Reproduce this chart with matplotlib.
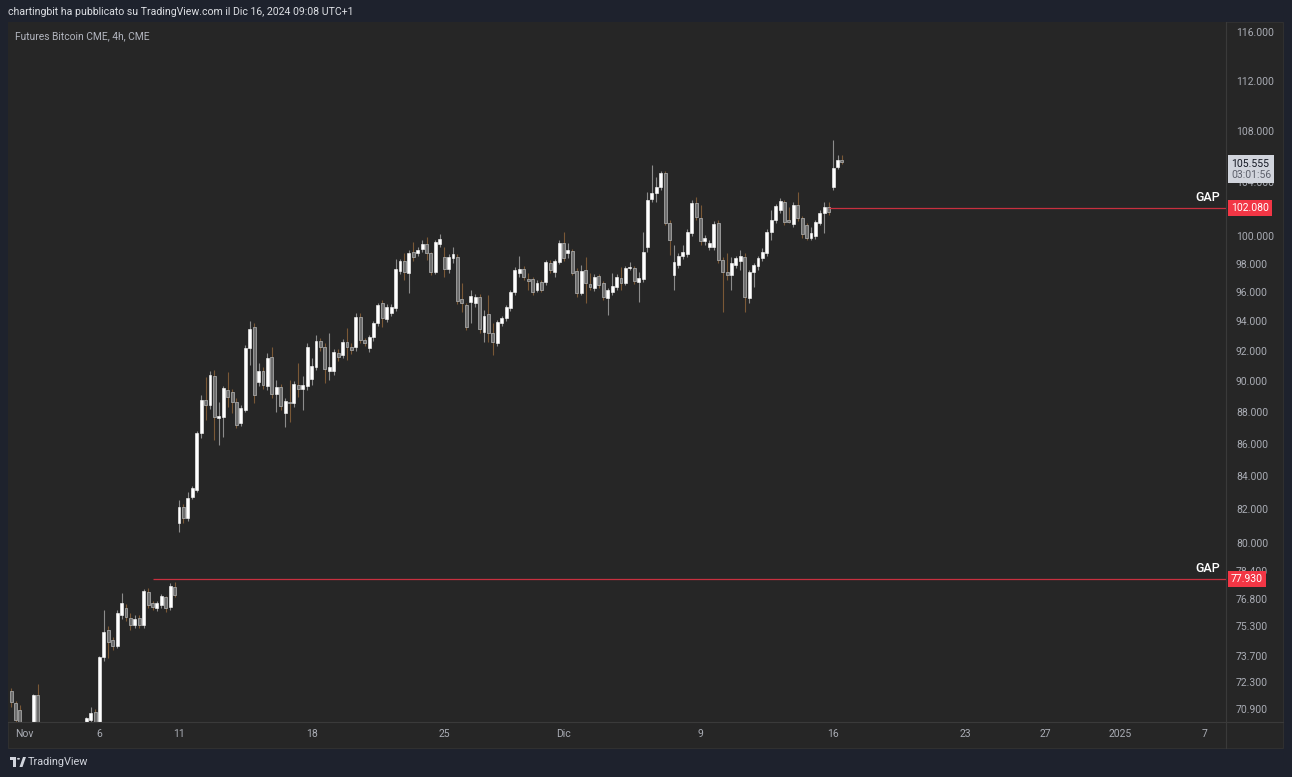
import numpy as np
import matplotlib
matplotlib.use("Agg")
import matplotlib.pyplot as plt
from matplotlib.patches import Rectangle, Circle, Polygon
from matplotlib.lines import Line2D
from matplotlib.ticker import NullLocator
from matplotlib.transforms import blended_transform_factory, offset_copy

plt.rcParams['font.family'] = ['Roboto', 'DejaVu Sans']

# 4h bars, CME BTC futures (bar index = trading-time position)
opens = [
    71835, 71210, 70850, 69900, 69500, 69800, 71600, 69800, 69100, 68800,
    69000, 68900, 68300, 68600, 69200, 69600, 69800, 70000, 70335, 70750,
    70200, 73630, 75100, 74550, 74230, 75920, 76310, 75750, 75370, 75750,
    75370, 77200, 76580, 76300, 76470, 76920, 76360, 77480, 81170, 82120,
    81470, 82720, 83140, 86660, 88760, 88440, 90330, 87610, 87670, 89410,
    89280, 88640, 87290, 88120, 92190, 93610, 89930, 90660, 89670, 91580,
    89150, 89610, 87930, 88640, 88570, 89740, 89480, 89670, 90130, 90920,
    92650, 92250, 90660, 90660, 91850, 91720, 92590, 92250, 92250, 94290,
    92720, 92190, 92920, 93880, 95250, 94150, 94560, 94910, 97500, 98210,
    97360, 98850, 98780, 99070, 99430, 98780, 97430, 99430, 98490, 97640,
    98420, 98490, 95530, 95110, 95320, 95250, 95670, 93270, 94500, 93200,
    92520, 93880, 94220, 94910, 96020, 97360, 97640, 96930, 96930, 96160,
    96720, 96720, 98060, 97430, 98140, 99500, 98780, 98930, 97500, 95950,
    97570, 96580, 96300, 97140, 96650, 95600, 96020, 96370, 97000, 96650,
    97710, 97710, 96720, 96930, 99210, 102730, 103190, 103640, 104700, 100960,
    97210, 97920, 98560, 98710, 100220, 102440, 101330, 99640, 99210, 99210,
    100960, 98280, 97430, 97210, 97920, 98210, 98490, 95600, 97430, 97850,
    98420, 98780, 100290, 101180, 101920, 102510, 101180, 100890, 102290, 101330,
    100810, 99860, 100000, 100960, 101700, 102140, 103640, 105150, 105690]
highs = [
    72000, 71300, 71100, 70200, 70000, 71700, 72200, 70000, 69500, 69300,
    69600, 69200, 68900, 69400, 69900, 70100, 70150, 70500, 71000, 70900,
    73700, 76190, 75300, 74700, 76200, 77140, 76500, 76000, 75900, 75900,
    77350, 77400, 76700, 76700, 77100, 77000, 77700, 77760, 82540, 82300,
    83020, 83400, 86800, 89090, 90260, 90660, 90720, 88640, 89700, 90590,
    89500, 88890, 88440, 92390, 94010, 93900, 91190, 90900, 91850, 92250,
    90060, 89800, 88900, 90060, 90000, 91190, 90330, 92500, 91520, 93060,
    92900, 92500, 93200, 92100, 92100, 92800, 93540, 92500, 94570, 94600,
    92900, 93100, 94000, 95300, 95460, 95200, 95200, 98350, 98400, 98780,
    99000, 99570, 99200, 99720, 99930, 98900, 99700, 100150, 99210, 98700,
    99210, 98700, 96650, 95300, 96160, 95900, 95900, 94770, 95810, 93880,
    94100, 94400, 95100, 96200, 97780, 98560, 97850, 97360, 97100, 96900,
    96900, 98300, 98300, 98350, 99720, 100290, 99500, 99100, 97700, 97920,
    98490, 97360, 97300, 97300, 96800, 96300, 97360, 97300, 97780, 97900,
    98140, 97900, 97430, 100290, 103260, 105300, 104390, 104900, 104900, 101200,
    99360, 98800, 99360, 100500, 102660, 102880, 102290, 100100, 99700, 101100,
    101200, 98500, 98780, 98490, 98600, 99000, 98800, 97600, 98100, 98600,
    99140, 100500, 101920, 102400, 102800, 102700, 102140, 102500, 103260, 101500,
    101000, 100660, 101200, 101900, 102510, 102510, 107240, 106080, 106080]
lows = [
    71000, 70100, 69600, 69300, 69200, 69600, 69500, 68900, 68500, 68200,
    68600, 67900, 67800, 68400, 68900, 69300, 69500, 69900, 70100, 70100,
    70100, 73400, 73580, 74000, 74100, 75700, 75600, 75100, 75200, 75200,
    75200, 76300, 76200, 76150, 76300, 76100, 76200, 76900, 80640, 81200,
    81300, 82600, 83000, 86350, 87480, 88200, 86220, 85910, 86410, 88320,
    87930, 86980, 87100, 88000, 91050, 88570, 89700, 89500, 89450, 88900,
    88000, 88100, 87040, 87350, 88300, 88960, 88120, 89400, 89740, 90700,
    92000, 89870, 90060, 90400, 91300, 91500, 91380, 91800, 92000, 92500,
    92300, 91950, 92700, 93700, 93610, 93950, 94350, 94700, 97300, 96860,
    95950, 98200, 98600, 98900, 98280, 97200, 97300, 99200, 97070, 97400,
    98060, 95200, 94640, 93400, 93880, 95000, 93200, 92590, 92590, 91720,
    92300, 93700, 94000, 94700, 95800, 97070, 96900, 96160, 95800, 96000,
    96000, 96500, 97400, 97070, 97990, 98200, 98420, 97200, 95700, 95810,
    95250, 96160, 96100, 96300, 95450, 94430, 95800, 96200, 96160, 96500,
    97570, 96600, 95320, 96700, 98900, 102500, 102510, 103400, 100800, 98640,
    96160, 97700, 98400, 98500, 100000, 101200, 99400, 99400, 99000, 99000,
    98100, 94630, 96900, 96160, 97700, 97570, 94630, 95300, 96370, 97600,
    98200, 98600, 99720, 101000, 101700, 100800, 100960, 100700, 101100, 99900,
    99700, 99700, 99800, 100800, 100220, 101600, 103400, 105000, 105400]
closes = [
    71260, 70335, 69900, 69500, 69800, 71600, 69800, 69100, 68800, 69000,
    68900, 68300, 68600, 69200, 69600, 69800, 70000, 70440, 70700, 70200,
    73630, 74990, 74440, 74230, 76030, 76580, 75810, 75370, 75700, 75370,
    77260, 76470, 76360, 76580, 76970, 76310, 77540, 77030, 82120, 81470,
    82660, 83260, 86660, 88760, 88440, 90390, 87670, 87740, 89540, 88960,
    88640, 87170, 88250, 92190, 93470, 89090, 90660, 89740, 91520, 89150,
    89610, 88380, 88700, 88570, 89800, 89480, 89740, 92250, 90990, 92650,
    92250, 90790, 90920, 91920, 91580, 92590, 92250, 92050, 94290, 92720,
    92520, 92920, 93880, 95110, 94220, 94980, 94980, 97640, 98210, 97430,
    98780, 98490, 99000, 99430, 98780, 97430, 99570, 99790, 97640, 98490,
    98710, 95390, 95250, 93600, 95740, 95670, 93470, 94360, 93200, 92590,
    93950, 94220, 94980, 96020, 97570, 97640, 97070, 96790, 96020, 96650,
    96160, 98140, 97570, 98210, 99500, 98420, 99000, 97360, 95950, 97500,
    96650, 96370, 97070, 96510, 95670, 96160, 96440, 97070, 96650, 97710,
    97780, 96790, 97000, 98850, 102660, 103190, 103640, 104700, 100960, 99720,
    98140, 98560, 98850, 100290, 102440, 101400, 99640, 99860, 99500, 100880,
    98280, 97430, 97210, 98060, 98420, 98560, 95670, 97430, 97920, 98420,
    98850, 100290, 101180, 102220, 102580, 101030, 101030, 102290, 101330, 100150,
    99860, 100220, 101030, 101700, 102140, 101770, 105070, 105690, 105555]

date_ticks = [3, 20, 38, 68, 98, 125, 156, 186, 216, 234, 251, 270]
date_labels = ['Nov', '6', '11', '18', '25', 'Dic', '9', '16', '23', '27', '2025', '7']
price_ticks = [116000, 112000, 108000, 104000, 100000, 98000, 96000, 94000, 92000,
               90000, 88000, 86000, 84000, 82000, 80000, 78400, 76800, 75300,
               73700, 72300, 70900]
gap_levels = [77930, 102080]
gap_start = [32, 185]
last_price = 105555
countdown = '03:01:56'

W, H = 1292, 777
def fx(px):
    return px / W
def fy(py):
    return 1 - py / H

fig = plt.figure(figsize=(W / 100, H / 100), dpi=100)
fig.patch.set_facecolor('#1e222d')
fig.add_artist(Rectangle((fx(8), fy(748)), (1283 - 8) / W, (748 - 22) / H,
                         transform=fig.transFigure, fc='#262626', ec='#303030',
                         lw=0.8, zorder=-1))

ax = fig.add_axes([fx(8), fy(722), (1226 - 8) / W, (722 - 22) / H])
ax.set_facecolor('#262626')
ax.set_yscale('log')
ax.set_ylim(70230, 116880)
xmax = 274.9
ax.set_xlim(-0.7, xmax)
for s in ax.spines.values():
    s.set_visible(False)

o = np.array(opens, float)
h = np.array(highs, float)
l = np.array(lows, float)
c = np.array(closes, float)
idx = np.arange(len(o))
up = c >= o
dn = ~up

bot = np.minimum(o, c)
hgt = np.maximum(np.abs(c - o), bot * 0.0009)

ax.vlines(idx[up], l[up], h[up], color='#8c8c8c', lw=0.8, zorder=2)
ax.vlines(idx[dn], l[dn], h[dn], color='#7a5836', lw=0.8, zorder=2)
ax.bar(idx[up], hgt[up], bottom=bot[up], width=0.66, color='#ffffff',
       edgecolor='#ffffff', lw=0.4, zorder=3)
ax.bar(idx[dn], hgt[dn], bottom=bot[dn], width=0.66, color='#6c6c6c',
       edgecolor='#a5a5a5', lw=0.6, zorder=3)

blend = blended_transform_factory(ax.transAxes, ax.transData)
for lev, x0 in zip(gap_levels, gap_start):
    ax.hlines(lev, x0, xmax, color='#c8303f', lw=0.9, zorder=4)
    ax.text(0.985, lev, 'GAP', transform=offset_copy(blend, fig=fig, y=3, units='points'),
            ha='center', va='bottom', color='white', fontsize=9, fontweight='medium')
    ax.text(1.0041, lev, f"{lev:,.0f}".replace(',', '.'), transform=blend,
            ha='left', va='center', color='white', fontsize=7.5, clip_on=False, zorder=6,
            bbox=dict(boxstyle='square,pad=0.3', fc='#f23645', ec='none'))

# last price tag
lp = f"{last_price:,.0f}".replace(',', '.')
ax.text(1.0041, last_price, lp + '\n' + countdown,
        transform=offset_copy(blend, fig=fig, y=2.6, units='points'),
        ha='left', va='top', color=(0, 0, 0, 0), fontsize=7.5, linespacing=1.15,
        clip_on=False, zorder=6,
        bbox=dict(boxstyle='square,pad=0.3', fc='#d1d4dc', ec='none'))
ax.text(1.0041, last_price, lp, transform=offset_copy(blend, fig=fig, y=-1.2, units='points'),
        ha='left', va='center', color='#131722', fontsize=7.5, clip_on=False, zorder=7)
ax.text(1.0041, last_price, countdown, transform=offset_copy(blend, fig=fig, y=-9.6, units='points'),
        ha='left', va='center', color='#5d606b', fontsize=7.5, clip_on=False, zorder=7)

ax.yaxis.tick_right()
ax.yaxis.set_minor_locator(NullLocator())
ax.set_yticks(price_ticks)
ax.set_yticklabels([f"{v:,.0f}".replace(',', '.') for v in price_ticks])
ax.tick_params(axis='y', length=0, pad=7.2, labelcolor='#a9acb4', labelsize=7.5)
ax.set_xticks(date_ticks)
ax.set_xticklabels(date_labels)
ax.tick_params(axis='x', length=0, pad=5, labelcolor='#a9acb4', labelsize=7.5)

# panel separators
fig.add_artist(Line2D([fx(1226), fx(1226)], [fy(22), fy(748)], transform=fig.transFigure,
                      color='#3a3a3a', lw=0.8))
fig.add_artist(Line2D([fx(8), fx(1283)], [fy(722), fy(722)], transform=fig.transFigure,
                      color='#3a3a3a', lw=0.8))

fig.text(fx(8), fy(12), 'chartingbit ha pubblicato su TradingView.com il Dic 16, 2024 09:08 UTC+1',
         color='#dcdee3', fontsize=7.6, ha='left', va='center')
fig.text(fx(15), fy(36), 'Futures Bitcoin CME, 4h, CME', color='#b2b5be', fontsize=7.4,
         ha='left', va='center')

# TradingView logo
logo_col = '#d1d4dc'
fig.add_artist(Rectangle((fx(10), fy(760)), 6 / W, 3 / H, transform=fig.transFigure,
                         fc=logo_col, ec='none'))
fig.add_artist(Rectangle((fx(13), fy(767)), 3 / W, 7 / H, transform=fig.transFigure,
                         fc=logo_col, ec='none'))
fig.add_artist(Circle((fx(18.5), fy(758.8)), 1.5 / W, transform=fig.transFigure,
                      fc=logo_col, ec='none'))
fig.add_artist(Polygon([(fx(19.5), fy(767)), (fx(23), fy(757)), (fx(26), fy(757)),
                        (fx(22.5), fy(767))], closed=True, transform=fig.transFigure,
                       fc=logo_col, ec='none'))
fig.text(fx(28), fy(762), 'TradingView', color=logo_col, fontsize=7.8, ha='left', va='center')

fig.savefig('out.png', dpi=100, facecolor=fig.get_facecolor())
